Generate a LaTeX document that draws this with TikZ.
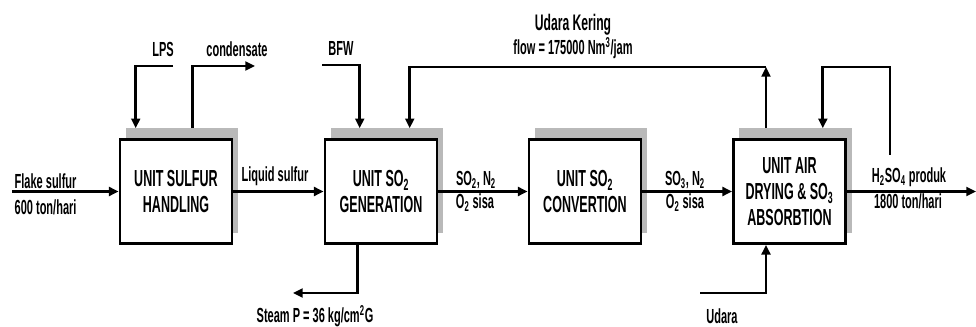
\documentclass[tikz,border=0pt]{standalone}
\usepackage{fontspec}
\setmainfont{Liberation Sans}[FakeStretch=0.54]
\usetikzlibrary{arrows.meta}

\begin{document}
\begin{tikzpicture}[x=0.025cm,y=-0.025cm,font=\bfseries,
  unit/.style={draw,line width=2pt,fill=white,minimum width=2.8cm,minimum height=2.6cm,align=center,
    font=\bfseries\fontsize{16.5}{18.5}\selectfont},
  shade/.style={fill=gray!55,minimum width=2.8cm,minimum height=2.6cm,inner sep=0pt},
  lbl/.style={font=\bfseries\fontsize{14.5}{16}\selectfont,inner sep=1pt},
  flow/.style={line width=1.9pt,-{Triangle[length=2.4mm,width=2.2mm]}}]
 \useasboundingbox (0,0) rectangle (976,327);
 \node[shade] (s1) at (182,180.5) {};
 \node[shade] (s2) at (387,180.5) {};
 \node[shade] (s3) at (591,180.5) {};
 \node[shade] (s4) at (795.5,180.5) {};
 \node[unit] (b1) at (176,191.5) {UNIT SULFUR\\HANDLING};
 \node[unit] (b2) at (381,191.5) {UNIT SO\textsubscript{2}\\GENERATION};
 \node[unit] (b3) at (585,191.5) {UNIT SO\textsubscript{2}\\CONVERTION};
 \node[unit] (b4) at (789.5,191.5) {UNIT AIR\\DRYING \& SO\textsubscript{3}\\ABSORBTION};
 \coordinate (flake) at (12,191.5);
 \coordinate (prod) at (976,191.5);
 \path[flow]
   (flake) edge (b1)
   (b1) edge (b2)
   (b2) edge (b3)
   (b3) edge (b4)
   (b4) edge (prod);
 \node[lbl,anchor=west] (flk) at (13,181) {Flake sulfur};
 \node[lbl,anchor=west] (flkton) at (13,207) {600 ton/hari};
 \node[lbl] (liq) at (275,176) {Liquid sulfur};
 \node[lbl] (gena) at (476,179.5) {SO\textsubscript{2}, N\textsubscript{2}};
 \node[lbl] (genb) at (475,203) {O\textsubscript{2} sisa};
 \node[lbl] (cona) at (685,179.5) {SO\textsubscript{3}, N\textsubscript{2}};
 \node[lbl] (conb) at (685,203) {O\textsubscript{2} sisa};
 \node[lbl] (acid) at (909,177) {H\textsubscript{2}SO\textsubscript{4} produk};
 \node[lbl] (acidton) at (908,201) {1800 ton/hari};
 \node[lbl] (lps) at (163,49) {LPS};
 \node[lbl] (cond) at (237,49) {condensate};
 \node[lbl] (bfw) at (341,48) {BFW};
 \node[lbl,font=\bfseries\fontsize{16}{18}\selectfont] (kering) at (573,25) {Udara Kering};
 \node[lbl] (keringflow) at (573,48) {flow = 175000 Nm\textsuperscript{3}/jam};
 \node[lbl] (steam) at (315,316) {Steam P = 36 kg/cm\textsuperscript{2}G};
 \node[lbl] (udara) at (722,316) {Udara};
 \coordinate (lpsin) at (173,66);
 \coordinate (condout) at (255,66);
 \coordinate (bfwin) at (322,65);
 \coordinate (turn) at (766,67);
 \coordinate (recyc) at (890,155);
 \coordinate (steamout) at (293,293);
 \coordinate (udarain) at (700,293);
 \draw[flow] (lpsin) -| ([xshift=0.25cm]s1.north west);
 \draw[flow] ([xshift=1.675cm]s1.north west) |- (condout);
 \draw[flow] (bfwin) -| ([xshift=0.725cm]s2.north west);
 \draw[flow] (turn |- s4.north) -- (turn);
 \draw[flow] (turn) -| ([xshift=1.975cm]s2.north west);
 \draw[flow] (recyc) -- (recyc |- turn) -| ([xshift=2.09cm]s4.north west);
 \draw[flow] ([xshift=0.85cm]b2.south west) |- (steamout);
 \draw[flow] (udarain) -| (turn |- b4.south);
\end{tikzpicture}
\end{document}
